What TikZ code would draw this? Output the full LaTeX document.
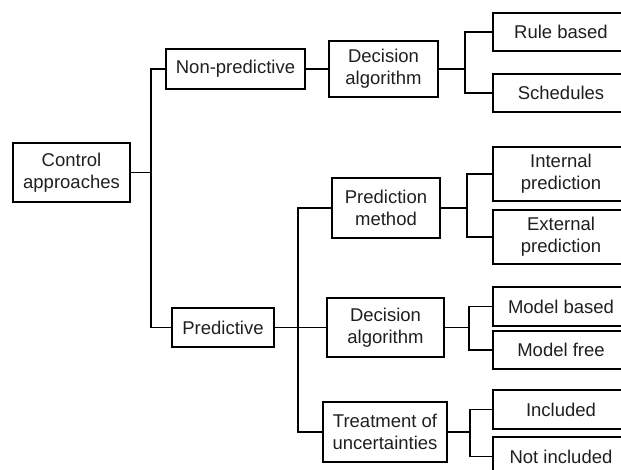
\documentclass[tikz,border=0pt]{standalone}
\usepackage{fontspec}
\setmainfont{Liberation Sans}
\begin{document}
\begin{tikzpicture}[x=1pt,y=-1pt,
  box/.style={draw, line width=1.8pt, inner sep=0pt, align=center,
    font=\fontsize{18.5}{22}\selectfont, text=black!88},
  link/.style={line width=1.8pt}]
\useasboundingbox (0,0) rectangle (621,470);
\clip (0,0) rectangle (621,470);
% level 0 and 1
\node[box, minimum width=117pt, minimum height=59pt] (ca) at (71.5,172.5) {Control\\approaches};
\node[box, minimum width=139pt, minimum height=40pt] (np) at (235.5,69) {Non-predictive};
\node[box, minimum width=102pt, minimum height=39pt] (pr) at (223,327.5) {Predictive};
% level 2
\node[box, minimum width=109pt, minimum height=56pt] (da1) at (383.5,69) {Decision\\algorithm};
\node[box, minimum width=108pt, minimum height=60pt] (pm) at (386,208) {Prediction\\method};
\node[box, minimum width=117pt, minimum height=59pt] (da2) at (385.5,327.5) {Decision\\algorithm};
\node[box, minimum width=124pt, minimum height=60pt] (tu) at (385,432) {Treatment of\\uncertainties};
% level 3
\node[box, minimum width=136pt, minimum height=38pt] (rb) at (561,32) {Rule based};
\node[box, minimum width=136pt, minimum height=38pt] (sc) at (561,93) {Schedules};
\node[box, minimum width=136pt, minimum height=54pt] (ip) at (561,174) {Internal\\prediction};
\node[box, minimum width=136pt, minimum height=54pt] (ep) at (561,237) {External\\prediction};
\node[box, minimum width=136pt, minimum height=39pt] (mb) at (561,306.5) {Model based};
\node[box, minimum width=136pt, minimum height=38pt] (mf) at (561,350) {Model free};
\node[box, minimum width=136pt, minimum height=39pt] (inc) at (561,409.5) {Included};
\node[box, minimum width=136pt, minimum height=39pt] (ninc) at (561,456.5) {Not included};
% junction columns
\coordinate (j0) at (151,0);
\coordinate (j1) at (465,0);
\coordinate (j2) at (298,0);
\coordinate (j3) at (467,0);
\coordinate (j4) at (469,0);
\coordinate (j5) at (470,0);
% connectors
\draw[link] (ca.east) -- (j0 |- ca.east);
\draw[link] (np.west) -| (j0 |- ca.east) |- (pr.west);
\draw[link] (np.east) -- (da1.west);
\draw[link] (da1.east) -- (j1 |- da1.east);
\draw[link] (rb.west) -| (j1 |- da1.east) |- (sc.west);
\draw[link] (pr.east) -- (da2.west);
\draw[link] (pm.west) -| (j2 |- pr.east) |- (tu.west);
\draw[link] (pm.east) -- (j3 |- pm.east);
\draw[link] (ip.west) -| (j3 |- pm.east) |- (ep.west);
\draw[link] (da2.east) -- (j4 |- da2.east);
\draw[link] (mb.west) -| (j4 |- da2.east) |- (mf.west);
\draw[link] (tu.east) -- (j5 |- tu.east);
\draw[link] (inc.west) -| (j5 |- tu.east) |- (ninc.west);
\end{tikzpicture}
\end{document}
